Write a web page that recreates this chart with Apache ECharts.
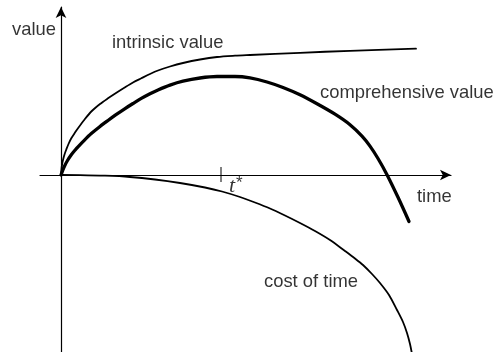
<!DOCTYPE html>
<html>
<head>
<meta charset="utf-8">
<script src="https://cdn.jsdelivr.net/npm/echarts@6/dist/echarts.min.js"></script>
<style>
  html, body { margin: 0; padding: 0; background: #fff; }
  #chart { width: 496px; height: 352px; }
</style>
</head>
<body>
<div id="chart"></div>
<script>
// curves, [time, value]
const intrinsicValue = [
  [0, 0], [0.04, 0.5], [0.1, 1.0], [0.2, 1.5], [0.35, 2.05], [0.53, 2.55], [0.75, 3.1],
  [1.03, 3.67], [1.4, 4.25], [1.7, 4.68], [2.3, 5.48], [3.03, 6.35], [3.9, 7.1],
  [4.7, 7.67], [5.5, 8.2], [6.37, 8.75], [7.2, 9.25], [8.03, 9.67], [8.9, 10.1],
  [9.7, 10.45], [10.9, 10.85], [12.2, 11.2], [13.9, 11.55], [15.6, 11.8], [17.4, 11.93],
  [18.9, 12.0], [23.9, 12.22], [28.9, 12.42], [35.5, 12.63]
]
const comprehensiveValue = [
  [0, 0], [0.15, 0.42], [0.37, 0.93], [0.65, 1.45], [1.03, 2.02], [1.4, 2.48], [1.7, 2.82],
  [2.35, 3.49], [3.03, 4.14], [3.9, 4.85], [4.7, 5.45], [5.5, 6.03], [6.37, 6.62],
  [7.2, 7.15], [8.03, 7.66], [8.9, 8.13], [9.7, 8.51], [10.9, 8.99], [12.2, 9.38],
  [13.9, 9.7], [15.6, 9.85], [17.4, 9.85], [18.9, 9.71], [20.6, 9.3], [22.2, 8.75],
  [23.9, 8.02], [25.6, 7.12], [27.4, 6.08], [28.9, 5.03], [30.1, 3.89], [30.9, 2.89],
  [31.7, 1.65], [32.6, 0.03], [33.7, -2.23], [34.8, -4.65]
]
const costOfTime = [
  [0, 0], [1.9, -0.01], [4.4, -0.07], [6.9, -0.2], [9.4, -0.45], [11.9, -0.8],
  [14.4, -1.25], [16.1, -1.65], [17.9, -2.2], [19.4, -2.75], [20.9, -3.35],
  [22.4, -4.05], [23.9, -4.8], [25.4, -5.6], [26.9, -6.5], [28.4, -7.6], [29.4, -8.35],
  [30.2, -9.0], [31.1, -9.9], [31.9, -10.8], [32.8, -12.0], [33.6, -13.5],
  [34.2, -14.7], [34.6, -15.8], [34.9, -16.9], [35.1, -17.9]
]
const tStar = 16
const tStarTick = [[tStar, 0.8], [tStar, -0.7]]

// text labels: [x, y, text]
const curveLabels = [
  [-4.9, 14.5, 'value'],
  [5.1, 13.2, 'intrinsic value'],
  [25.9, 8.2, 'comprehensive value'],
  [35.6, -2.2, 'time'],
  [20.3, -10.7, 'cost of time']
]
const tStarLabel = [[16.8, -1.15]]

const chart = echarts.init(document.getElementById('chart'))

const axisCommon = {
  type: 'value',
  axisLine: {
    show: true,
    onZero: true,
    symbol: ['none', 'arrow'],
    symbolSize: [8, 11],
    lineStyle: { color: '#000', width: 1.2 }
  },
  axisTick: { show: false },
  axisLabel: { show: false },
  splitLine: { show: false }
}

const font = '"Liberation Sans", Arial, sans-serif'

function curve(name, data, width) {
  return {
    name: name,
    type: 'line',
    data: data,
    smooth: 0.3,
    showSymbol: false,
    lineStyle: { color: '#000', width: width, cap: 'round', join: 'round' }
  }
}

const option = {
  animation: false,
  backgroundColor: '#fff',
  grid: { left: 40, right: 45, top: 7, bottom: 0 },
  xAxis: Object.assign({}, axisCommon, { min: -2.1, max: 39.0 }),
  yAxis: Object.assign({}, axisCommon, { min: -17.7, max: 16.8 }),
  series: [
    curve('intrinsic value', intrinsicValue, 1.8),
    curve('comprehensive value', comprehensiveValue, 3.3),
    curve('cost of time', costOfTime, 1.8),
    {
      name: 't* tick',
      type: 'line',
      data: tStarTick,
      showSymbol: false,
      lineStyle: { color: '#000', width: 1 }
    },
    {
      type: 'scatter',
      symbolSize: 0,
      clip: false,
      data: curveLabels.map(d => ({ value: [d[0], d[1]], name: d[2] })),
      label: {
        show: true,
        position: [0, 0],
        align: 'left',
        verticalAlign: 'middle',
        formatter: '{b}',
        color: '#000',
        fontSize: 18.4,
        fontFamily: font
      }
    },
    {
      type: 'scatter',
      symbolSize: 0,
      clip: false,
      data: tStarLabel,
      label: {
        show: true,
        position: [0, 0],
        align: 'left',
        verticalAlign: 'middle',
        formatter: '{t|t}{s|*}',
        rich: {
          t: { fontFamily: '"Liberation Serif", "Times New Roman", serif', fontStyle: 'italic', fontSize: 22, color: '#000' },
          s: { fontFamily: font, fontSize: 17, color: '#000', verticalAlign: 'top', padding: [0, 0, 6, 1] }
        }
      }
    }
  ]
}

chart.setOption(option)
</script>
</body>
</html>
